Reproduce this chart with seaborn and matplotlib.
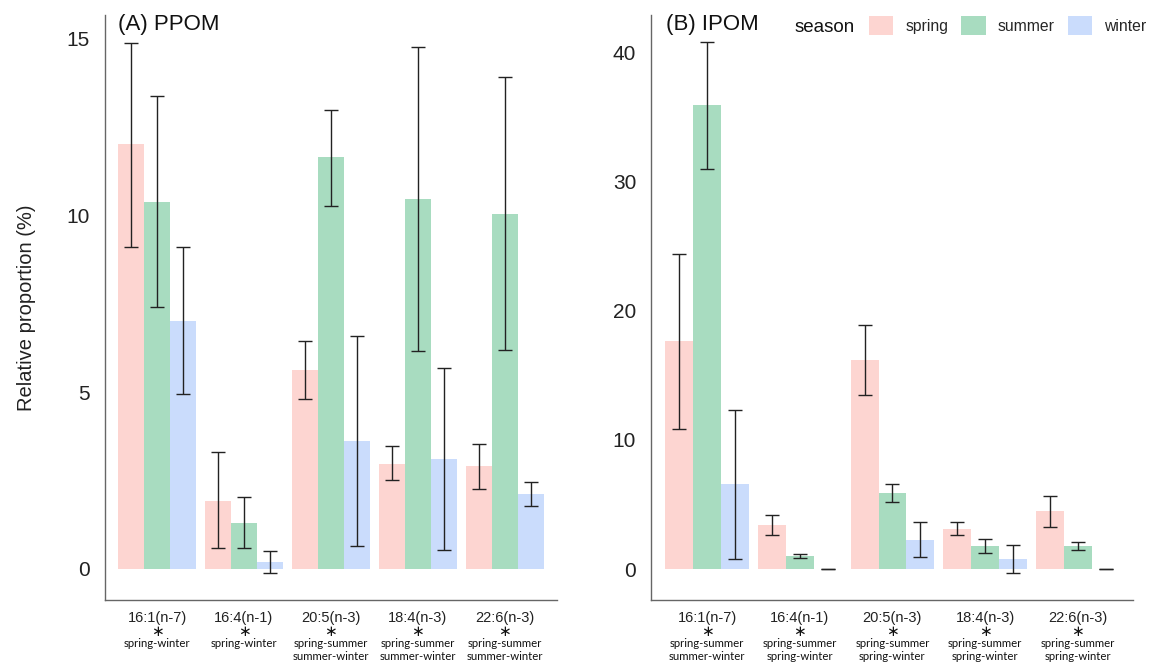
import numpy as np
import pandas as pd
import matplotlib
matplotlib.use('Agg')
import matplotlib.pyplot as plt
import matplotlib.patches as mpatches
import seaborn as sns

# ------------------------------------------------------------
# data
# ------------------------------------------------------------
categories = ['16:1(n-7)', '16:4(n-1)', '20:5(n-3)', '18:4(n-3)', '22:6(n-3)']
seasons = ['spring', 'summer', 'winter']

ppom_mean = {'spring': [12.0, 1.93, 5.62, 2.97, 2.90],
             'summer': [10.38, 1.30, 11.63, 10.45, 10.04],
             'winter': [7.01, 0.19, 3.62, 3.10, 2.12]}
ppom_lo = {'spring': [9.10, 0.58, 4.81, 2.50, 2.27],
           'summer': [7.39, 0.58, 10.27, 6.16, 6.18],
           'winter': [4.95, -0.12, 0.65, 0.54, 1.79]}
ppom_hi = {'spring': [14.86, 3.29, 6.43, 3.47, 3.54],
           'summer': [13.38, 2.02, 12.97, 14.75, 13.91],
           'winter': [9.09, 0.50, 6.59, 5.68, 2.47]}

ipom_mean = {'spring': [17.66, 3.41, 16.18, 3.11, 4.47],
             'summer': [35.94, 1.01, 5.90, 1.75, 1.75],
             'winter': [6.55, 0.0, 2.28, 0.77, 0.0]}
ipom_lo = {'spring': [10.87, 2.67, 13.48, 2.64, 3.26],
           'summer': [31.02, 0.89, 5.21, 1.21, 1.45],
           'winter': [0.77, 0.0, 0.95, -0.30, 0.0]}
ipom_hi = {'spring': [24.44, 4.15, 18.90, 3.61, 5.66],
           'summer': [40.86, 1.19, 6.61, 2.34, 2.07],
           'winter': [12.33, 0.0, 3.64, 1.90, 0.0]}

ppom_sig = [['spring-winter'], ['spring-winter'],
            ['spring-summer', 'summer-winter'],
            ['spring-summer', 'summer-winter'],
            ['spring-summer', 'summer-winter']]
ipom_sig = [['spring-summer', 'summer-winter'],
            ['spring-summer', 'spring-winter'],
            ['spring-summer', 'spring-winter'],
            ['spring-summer', 'spring-winter'],
            ['spring-summer', 'spring-winter']]

COLORS = {'spring': '#FDD5D1', 'summer': '#A8DCC0', 'winter': '#CADCFC'}
MAIN_FONT = 'Liberation Sans'
SMALL_FONT = 'Lato'


def to_frame(mean, lo, hi):
    rows = []
    for s in seasons:
        for i, c in enumerate(categories):
            rows.append({'fatty_acid': c, 'season': s, 'value': mean[s][i],
                         'lo': lo[s][i], 'hi': hi[s][i]})
    return pd.DataFrame(rows)


sns.set_style('white')
plt.rcParams['font.family'] = [MAIN_FONT, 'DejaVu Sans']

fig = plt.figure(figsize=(11.53, 6.63), dpi=100)
ax1 = fig.add_axes([0.091, 0.095, 0.392, 0.882])
ax2 = fig.add_axes([0.565, 0.095, 0.418, 0.882])

panels = [(ax1, to_frame(ppom_mean, ppom_lo, ppom_hi), ppom_sig, '(A) PPOM',
           (-0.88, 15.65), [0, 5, 10, 15]),
          (ax2, to_frame(ipom_mean, ipom_lo, ipom_hi), ipom_sig, '(B) IPOM',
           (-2.4, 42.9), [0, 10, 20, 30, 40])]

for ax, df, sig, title, ylim, yticks in panels:
    sns.barplot(data=df, x='fatty_acid', y='value', hue='season',
                order=categories, hue_order=seasons, palette=COLORS,
                errorbar=None, width=0.9, gap=0, saturation=1, linewidth=0,
                ax=ax, legend=False)

    # error bars at the centres of the bars seaborn drew
    for s, cont in zip(seasons, ax.containers):
        sub = df[df['season'] == s].set_index('fatty_acid').loc[categories]
        xs = [b.get_x() + b.get_width() / 2 for b in cont]
        yerr = [sub['value'] - sub['lo'], sub['hi'] - sub['value']]
        ax.errorbar(xs, sub['value'], yerr=yerr, fmt='none', ecolor='#222222',
                    elinewidth=1.0, capsize=5, capthick=1.0)

    ax.set_xlim(-0.6, 4.6)
    ax.set_ylim(*ylim)
    ax.set_yticks(yticks)
    ax.tick_params(axis='y', labelsize=15, length=2, pad=9, color='#777777',
                   labelcolor='#222222')
    ax.tick_params(axis='x', labelsize=10.5, length=3, color='#777777', pad=5,
                   labelcolor='#222222')
    ax.set_xlabel('')
    ax.set_ylabel('')
    for side in ['top', 'right']:
        ax.spines[side].set_visible(False)
    for side in ['left', 'bottom']:
        ax.spines[side].set_color('#666666')
        ax.spines[side].set_linewidth(1.0)

    ax.text(0.03, 0.985, title, transform=ax.transAxes, fontsize=16,
            ha='left', va='center', color='#111111')

    # significance annotations under each category
    for i, lines in enumerate(sig):
        ax.annotate(r'$\ast$', xy=(i, 0), xycoords=ax.get_xaxis_transform(),
                    xytext=(0, -22.8), textcoords='offset points',
                    ha='center', va='center', fontsize=11, color='#111111')
        ax.annotate('\n'.join(lines), xy=(i, 0), xycoords=ax.get_xaxis_transform(),
                    xytext=(0, -27.6), textcoords='offset points',
                    ha='center', va='top', fontsize=8.2, linespacing=1.15,
                    family=[SMALL_FONT, 'DejaVu Sans'], color='#111111')

ax1.set_ylabel('Relative proportion (%)', fontsize=14.5, color='#222222', labelpad=22)

# legend across the top of panel B
fig.text(795 / 1153, 1 - 28 / 663, 'season', fontsize=13.5, ha='left', va='center',
         color='#111111')
handles = [mpatches.Patch(facecolor=COLORS[s], edgecolor='none', label=s) for s in seasons]
fig.legend(handles=handles, loc='upper left', ncol=3,
           bbox_to_anchor=(869 / 1153, 1 - 16 / 663), frameon=False,
           fontsize=11.3, handlelength=1.55, handleheight=1.45, handletextpad=0.75,
           columnspacing=0.85, borderpad=0, borderaxespad=0)

fig.savefig('out.png', dpi=100)
